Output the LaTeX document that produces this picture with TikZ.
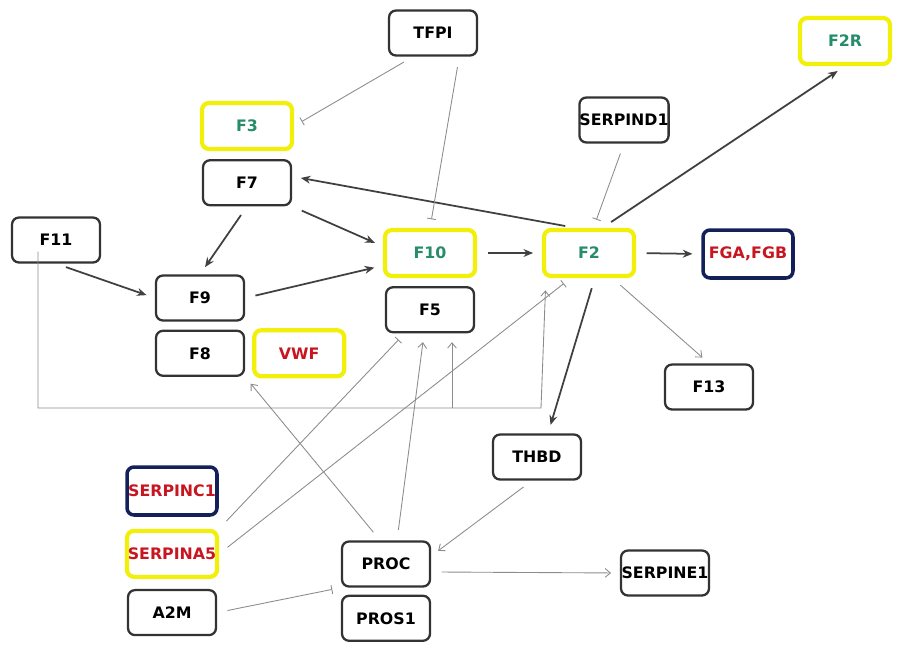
\documentclass[tikz,border=0pt]{standalone}
\usepackage{fontspec}
\setmainfont{DejaVu Sans}
\usetikzlibrary{arrows.meta, positioning, calc}
\definecolor{hlYellow}{RGB}{242,240,10}
\definecolor{hlNavy}{RGB}{20,32,90}
\definecolor{txtGreen}{RGB}{38,140,105}
\definecolor{txtRed}{RGB}{200,22,32}
\tikzset{
    font=\fontsize{9}{10}\selectfont\bfseries,
    % Boxes
    gene/.style={rectangle, draw=black!80, line width=1.3pt, rounded corners=4pt, fill=white,
                 minimum width=1.76cm, minimum height=0.9cm, inner sep=0pt, align=center},
    geneYellow/.style={gene, draw=hlYellow, line width=2.4pt, minimum width=1.8cm, minimum height=0.92cm},
    geneNavy/.style={gene, draw=hlNavy, line width=2pt, minimum width=1.8cm, minimum height=0.96cm},
    % Flow
    act/.style={-{Stealth[length=5.5pt,width=4.5pt]}, line width=1pt, black!75, shorten >=5pt, shorten <=6pt},
    weak/.style={-{Straight Barb[length=3pt,width=5pt]}, line width=0.5pt, black!45, shorten >=5pt, shorten <=6pt},
    inh/.style={-{Bar[width=5pt]}, line width=0.5pt, black!45, shorten >=5pt, shorten <=6pt}
}

\begin{document}
\begin{tikzpicture}[x=0.02cm, y=-0.02cm, node distance=0.16cm]
\useasboundingbox (0,0) rectangle (899,656);

\node[gene] (tfpi) at (433,33) {TFPI};
\node[geneYellow, text=txtGreen] (f2r) at (845,41) {F2R};
\node[geneYellow, text=txtGreen] (f3) at (247,126) {F3};
\node[gene, below=of f3] (f7) {F7};
\node[gene] (serpind1) at (624,120) {SERPIND1};
\node[gene] (f11) at (56,240) {F11};
\node[geneYellow, text=txtGreen] (f10) at (430,253) {F10};
\node[gene, below=of f10] (f5) {F5};
\node[geneYellow, text=txtGreen] (f2) at (589,253) {F2};
\node[geneNavy, text=txtRed] (fga) at (748,254) {FGA,FGB};
\node[gene] (f9) at (200,298) {F9};
\node[gene, below=of f9] (f8) {F8};
\node[geneYellow, text=txtRed, right=0.14cm of f8] (vwf) {VWF};
\node[gene] (f13) at (709,387) {F13};
\node[gene] (thbd) at (537,457) {THBD};
\node[geneNavy, text=txtRed] (serpc1) at (172,491) {SERPINC1};
\node[geneYellow, text=txtRed, below=0.24cm of serpc1] (serpa5) {SERPINA5};
\node[gene, below=0.2cm of serpa5] (a2m) {A2M};
\node[gene] (proc) at (386,564) {PROC};
\node[gene, below=0.14cm of proc] (pros1) {PROS1};
\node[gene] (serpine1) at (665,573) {SERPINE1};

% main cascade
\draw[act] (f2.118) -- (f7.8);
\draw[act] (f7.south east) -- (f10.172);
\draw[act] (f7.south) -- (f9.north);
\draw[act] (f11.south) -- (f9.west);
\draw[act] (f9.east) -- (f10.195);
\draw[act] (f10.east) -- (f2.west);
\draw[act] (f2.east) -- (fga.west);
\draw[act] (f2.62) -- (f2r.south);
\draw[act] (f2.283) -- (thbd.65);
\draw[weak] (f2.313) -- (f13.north);

% inhibitors
\draw[inh] (tfpi.230) -- (f3.east);
\draw[inh] (tfpi.318) -- (f10.north);
\draw[inh] (serpind1.south) -- (f2.80);
\draw[inh] (serpa5.north east) -- (f5.223);
\draw[inh] (serpa5.east) -- (f2.234);
\draw[inh] (a2m.east) -- (proc.south west);

% F11 line under the cascade
\coordinate (bus) at (541,408);
\draw[weak, shorten <=0pt, shorten >=7pt] ($(f11.south)+(-18,-12)$) |- (bus) -- ($(f2.south west)+(4,0)$);
\draw[weak, shorten <=0pt] ([xshift=0.44cm]f5.south |- bus) -- ([xshift=0.44cm]f5.south);

% protein C
\draw[weak] (proc.65) -- (f5.256);
\draw[weak] (proc.104) -- (f8.south east);
\draw[weak] (thbd.258) -- (proc.10);
\draw[weak] (proc.350) -- (serpine1.west);

\end{tikzpicture}
\end{document}
